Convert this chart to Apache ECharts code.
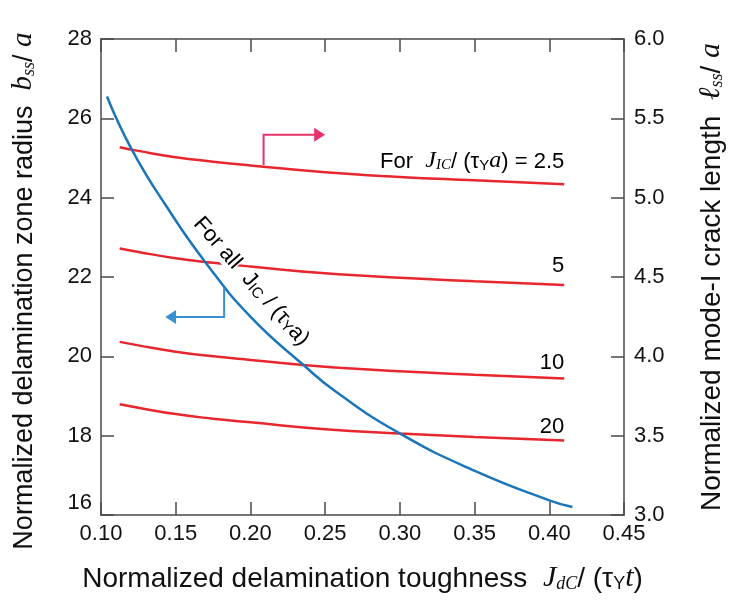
<!DOCTYPE html>
<html><head><meta charset="utf-8">
<script src="https://cdn.jsdelivr.net/npm/echarts@6/dist/echarts.min.js"></script>
<style>html,body{margin:0;padding:0;background:#fff}#c{width:734px;height:605px}</style>
</head><body><div id="c"></div>
<script>
// ---- data ----
const xMin = 0.10, xMax = 0.45, xStep = 0.05;
const yLeftMin = 16, yLeftMax = 28, yLeftStep = 2;
const yRightMin = 3.0, yRightMax = 6.0, yRightStep = 0.5;

const redX   = [0.1125, 0.125, 0.15, 0.175, 0.2, 0.25, 0.3, 0.35, 0.41];
const red2_5 = [5.318, 5.295, 5.255, 5.227, 5.203, 5.160, 5.131, 5.110, 5.085];
const red5   = [4.680, 4.658, 4.618, 4.590, 4.566, 4.523, 4.495, 4.473, 4.449];
const red10  = [4.091, 4.069, 4.029, 4.000, 3.977, 3.934, 3.906, 3.884, 3.860];
const red20  = [3.698, 3.676, 3.636, 3.607, 3.584, 3.541, 3.514, 3.492, 3.470];
const redNames = ['2.5', '5', '10', '20'];

const blueX = [0.104, 0.1208, 0.144, 0.1697, 0.2, 0.2355, 0.2575, 0.3002, 0.3498, 0.4, 0.4155];
const blueY = [26.55, 25.20, 23.77, 22.38, 21.00, 19.78, 19.10, 18.05, 17.12, 16.37, 16.20];

// ---- styles ----
const AX = '#4a4a4a';
const TXT = '#111';
const SANS = 'Liberation Sans, Arial, sans-serif';
const SERIF = 'Liberation Serif, Times New Roman, serif';
const RED = '#e8262d';
const BLUE = '#1b75bb';

const zip = (xs, ys) => xs.map((x, i) => [x, ys[i]]);

function titleRich(fs) {
  return {
    n:   {fontFamily: SANS, fontSize: fs, color: TXT, lineHeight: 32, verticalAlign: 'bottom'},
    it:  {fontFamily: SERIF, fontStyle: 'italic', fontSize: fs + 2, color: TXT, lineHeight: 32, verticalAlign: 'bottom'},
    sb:  {fontFamily: SERIF, fontStyle: 'italic', fontSize: Math.round(fs * 0.66), color: TXT, lineHeight: 13, verticalAlign: 'bottom'},
    sbs: {fontFamily: SANS, fontSize: Math.round(fs * 0.66), color: TXT, lineHeight: 13, verticalAlign: 'bottom'}
  };
}

const axisLine = {show: true, onZero: false, lineStyle: {color: AX, width: 1.5}};
const axisTick = {show: true, inside: true, length: 13, lineStyle: {color: AX, width: 1.5}};
const TFS = 22;
const tickFont = {fontFamily: SANS, fontSize: TFS, color: TXT};

const chart = echarts.init(document.getElementById('c'), null, {renderer: 'canvas'});

const series = [red2_5, red5, red10, red20].map((ys, i) => ({
  name: redNames[i], type: 'line', xAxisIndex: 0, yAxisIndex: 1,
  data: zip(redX, ys), smooth: true, showSymbol: false, symbol: 'none',
  lineStyle: {color: RED, width: 2.5}, z: 2
}));
series.push({
  name: 'all', type: 'line', xAxisIndex: 0, yAxisIndex: 0,
  data: zip(blueX, blueY), smooth: true, showSymbol: false, symbol: 'none',
  lineStyle: {color: BLUE, width: 2.5}, z: 3
});

chart.setOption({
  animation: false,
  backgroundColor: '#fff',
  grid: {left: 101, right: 101, top: 39, bottom: 90},
  xAxis: [
    {
      type: 'value', min: xMin, max: xMax, interval: xStep, position: 'bottom',
      axisLine, axisTick, splitLine: {show: false},
      axisLabel: Object.assign({margin: 8, formatter: v => v.toFixed(2)}, tickFont),
      name: '{n|Normalized delamination toughness  }{it|J}{sb|dC}{n|/ (τ}{sbs|Y}{it|t}{n|)}',
      nameLocation: 'middle', nameGap: 46,
      nameTextStyle: {fontFamily: SANS, fontSize: 28, color: TXT, rich: titleRich(28)}
    },
    {
      type: 'value', min: xMin, max: xMax, interval: xStep, position: 'top',
      axisLine, axisTick, splitLine: {show: false}, axisLabel: {show: false}
    }
  ],
  yAxis: [
    {
      type: 'value', min: yLeftMin, max: yLeftMax, interval: yLeftStep, position: 'left',
      axisLine, axisTick, splitLine: {show: false},
      axisLabel: Object.assign({
        margin: 9,
        formatter: v => v === yLeftMin ? '{lift|' + v + '}' : String(v),
        rich: {lift: {fontFamily: SANS, fontSize: TFS, color: TXT, padding: [0, 0, 24, 0]}}
      }, tickFont),
      name: '{n|Normalized delamination zone radius  }{it|b}{sb|ss}{n|/ }{it|a}',
      nameLocation: 'middle', nameGap: 63, nameRotate: 90,
      nameTextStyle: {fontFamily: SANS, fontSize: 27, color: TXT, rich: titleRich(27), padding: [0, 28, 0, 0]}
    },
    {
      type: 'value', min: yRightMin, max: yRightMax, interval: yRightStep, position: 'right',
      axisLine, axisTick, splitLine: {show: false},
      axisLabel: Object.assign({margin: 10, formatter: v => v.toFixed(1)}, tickFont),
      name: '{n|Normalized mode-I crack length  }{it|ℓ}{sb|ss}{n|/ }{it|a}',
      nameLocation: 'middle', nameGap: 70, nameRotate: 90,
      nameTextStyle: {fontFamily: SANS, fontSize: 28, color: TXT, rich: titleRich(28)}
    }
  ],
  series
});

// ---- annotations (placed in data coordinates) ----
const PL = (x, y) => chart.convertToPixel({xAxisIndex: 0, yAxisIndex: 0}, [x, y]);
const PR = (x, y) => chart.convertToPixel({xAxisIndex: 0, yAxisIndex: 1}, [x, y]);

const annRich = {
  n:   {fontFamily: SANS, fontSize: 22, color: TXT, lineHeight: 26, verticalAlign: 'bottom'},
  w:   {fontFamily: SANS, fontSize: 22, color: TXT, lineHeight: 26, verticalAlign: 'bottom', backgroundColor: '#fff'},
  it:  {fontFamily: SERIF, fontStyle: 'italic', fontSize: 24, color: TXT, lineHeight: 26, verticalAlign: 'bottom'},
  sb:  {fontFamily: SERIF, fontStyle: 'italic', fontSize: 15, color: TXT, lineHeight: 10, verticalAlign: 'bottom'},
  sbs: {fontFamily: SANS, fontSize: 15, color: TXT, lineHeight: 10, verticalAlign: 'bottom'}
};

const labelPos = [[0.41, 24.95], [0.41, 22.33], [0.41, 19.88], [0.41, 18.26]];
const labelText = [
  '{n|For  }{it|J}{sb|IC}{n|/ (τ}{sbs|Y}{it|a}{n|) = ' + redNames[0] + '}',
  '{n|' + redNames[1] + '}', '{n|' + redNames[2] + '}', '{n|' + redNames[3] + '}'
];

const graphics = [];
labelPos.forEach((p, i) => {
  const q = PL(p[0], p[1]);
  graphics.push({type: 'text', x: q[0], y: q[1], z: 10,
    style: {text: labelText[i], rich: annRich, align: 'right', verticalAlign: 'middle'}});
});

// rotated label along blue curve
const rc = PL(0.2015, 21.92);
graphics.push({type: 'text', x: rc[0], y: rc[1], rotation: -0.85, z: 10,
  style: {text: '{n|For }{w|all}{n|  J}{sbs|IC}{n| / (τ}{sbs|Y}{n|a)}', rich: annRich,
          align: 'center', verticalAlign: 'middle'}});

// pink arrow -> right axis
const PINK = '#e8336b';
const a1 = PR(0.2088, 5.206), a2 = PR(0.2088, 5.396), a3 = PR(0.2440, 5.396), a4 = PR(0.2500, 5.396);
graphics.push({type: 'polyline', z: 10, shape: {points: [a1, a2, a3]}, style: {stroke: PINK, lineWidth: 2, fill: null}});
graphics.push({type: 'polygon', z: 10, shape: {points: [a4, [a3[0] - 2, a3[1] - 7], [a3[0] - 2, a3[1] + 7]]}, style: {fill: PINK}});

// blue arrow -> left axis
const LBLUE = '#3a8fd0';
const b1 = PL(0.1824, 21.72), b2 = PL(0.1824, 20.99), b3 = PL(0.1489, 20.99), b4 = PL(0.1430, 20.99);
graphics.push({type: 'polyline', z: 10, shape: {points: [b1, b2, b3]}, style: {stroke: LBLUE, lineWidth: 2, fill: null}});
graphics.push({type: 'polygon', z: 10, shape: {points: [b4, [b3[0] + 2, b3[1] - 7], [b3[0] + 2, b3[1] + 7]]}, style: {fill: LBLUE}});

chart.setOption({graphic: graphics});
</script>
</body></html>
